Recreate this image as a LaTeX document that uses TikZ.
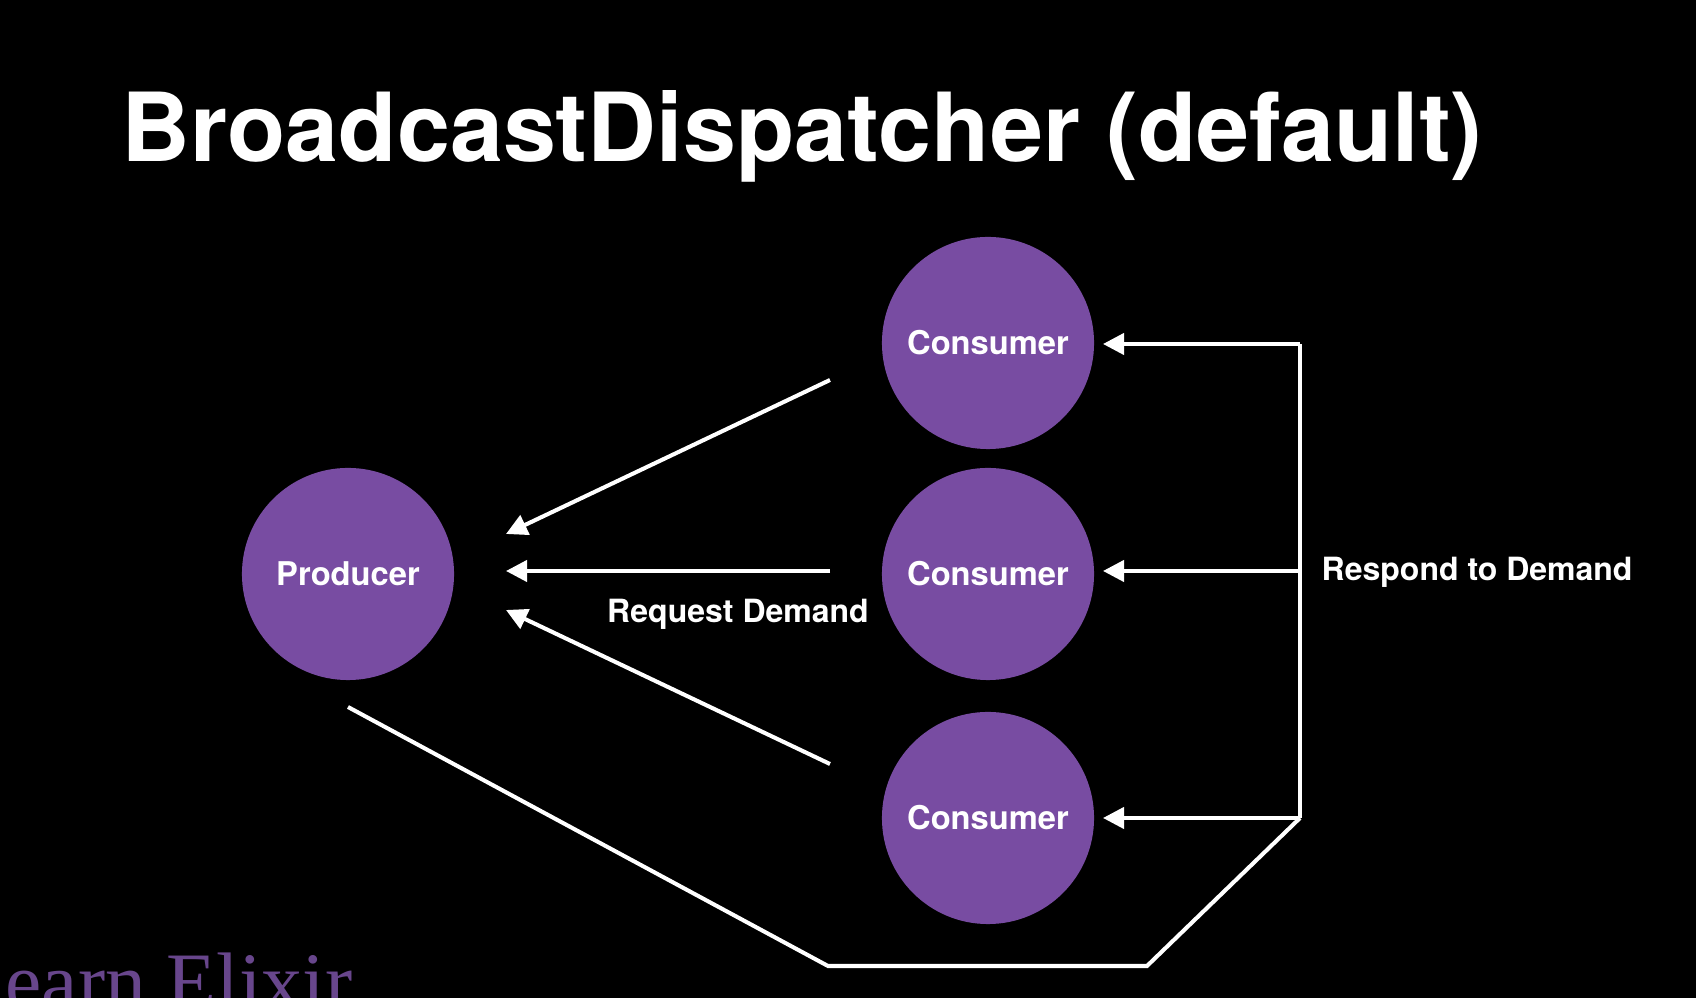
\documentclass[tikz,border=0pt]{standalone}
\usepackage{fontspec}
\setmainfont{TeX Gyre Heros}
\newfontfamily\wmfont{Liberation Serif}
\usetikzlibrary{arrows.meta}
\definecolor{circpurple}{RGB}{120,76,162}
\definecolor{wmpurple}{RGB}{104,70,140}
\tikzset{
  proc/.style={circle,fill=circpurple,minimum size=2.12cm,inner sep=0pt,text=white,font=\bfseries\fontsize{9.3pt}{11pt}\selectfont},
  link/.style={draw=white,line width=1.15pt},
  arr/.style={link,-{Triangle[length=6pt,width=6pt]}},
  lbl/.style={text=white,font=\bfseries\fontsize{9.1pt}{11pt}\selectfont,inner sep=0pt}
}
\begin{document}
\begin{tikzpicture}[x=0.01cm,y=-0.01cm]
\fill[black] (0,0) rectangle (1696,998);
\clip (0,0) rectangle (1696,998);
\useasboundingbox (0,0) rectangle (1696,998);
\node[text=white,font=\bfseries\fontsize{27.1pt}{32pt}\selectfont,anchor=base west,inner sep=0pt] (title) at (121,162) {BroadcastDispatcher (default)};
\node[proc] (p) at (348,574) {Producer};
\node[proc] (c1) at (988,343) {Consumer};
\node[proc] (c2) at (988,574) {Consumer};
\node[proc] (c3) at (988,818) {Consumer};
% request demand arrows
\coordinate (r1s) at (830,380); \coordinate (r1e) at (506,534);
\coordinate (r2s) at (830,571); \coordinate (r2e) at (506,571);
\coordinate (r3s) at (830,764); \coordinate (r3e) at (506,610);
\draw[arr] (r1s) -- (r1e);
\draw[arr] (r2s) -- (r2e);
\draw[arr] (r3s) -- (r3e);
\node[lbl] (req) at (738,614) {Request Demand};
% respond to demand
\coordinate (v1) at (1300,344); \coordinate (v2) at (1300,571); \coordinate (v3) at (1300,818);
\coordinate (a1) at (1103,344); \coordinate (a2) at (1103,571); \coordinate (a3) at (1103,818);
\draw[link] (v1) -- (v3);
\draw[arr] (v1) -- (a1);
\draw[arr] (v2) -- (a2);
\draw[arr] (v3) -- (a3);
\node[lbl,anchor=west] (resp) at (1321,572) {Respond to Demand};
% bottom loop
\coordinate (b0) at (348,707); \coordinate (b1) at (828,966); \coordinate (b2) at (1147,966);
\draw[link,line join=miter] (b0) -- (b1) -- (b2) -- (v3);
% watermark
\node[text=wmpurple,font=\wmfont\fontsize{23.2pt}{28pt}\selectfont,anchor=base east,inner sep=0pt] (wm) at (353,1010) {Learn Elixir};
\end{tikzpicture}
\end{document}
